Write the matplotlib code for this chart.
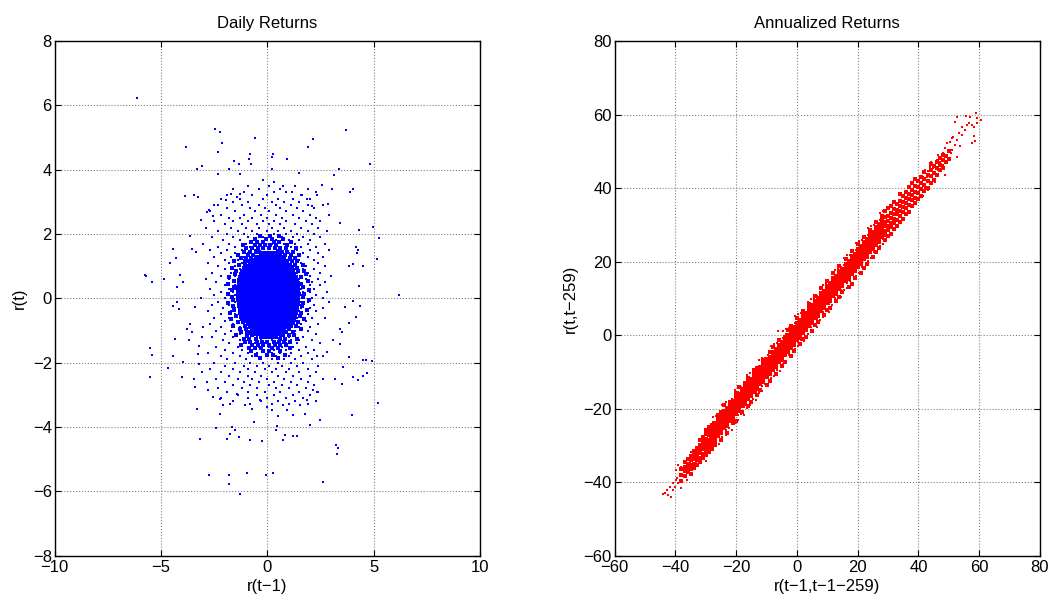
import matplotlib.pyplot as plt

plt.rcParams['font.family'] = ['Liberation Sans', 'DejaVu Sans']

# ---------------- Daily returns: r(t-1) vs r(t) ----------------
# isolated points, (r(t-1), r(t))
daily_outliers = [
    (-6.11, 6.23), (-2.46, 5.27), (-2.23, 5.16), (-2.13, 4.84), (-3.82, 4.69),
    (-2.30, 4.55), (-0.56, 4.97), (-0.82, 4.48), (-0.85, 4.32), (-0.78, 4.17),
    (0.28, 4.48), (0.22, 4.39), (0.94, 4.33), (2.13, 4.94), (1.91, 4.69),
    (3.68, 5.24), (4.83, 4.18), (-3.09, 4.11), (-3.32, 4.01), (-2.34, 3.88),
    (-1.82, 4.01), (-1.57, 4.28), (-1.32, 4.17), (-1.29, 3.85), (0.22, 4.01),
    (1.47, 3.90), (3.15, 3.84), (3.39, 4.03), (-3.86, 3.17), (-3.45, 3.21),
    (-3.26, 3.15), (3.89, 3.29), (4.01, 3.40), (3.06, 3.41), (2.55, 3.53),
    (3.42, 2.34), (4.31, 2.11), (4.95, 2.23), (5.25, 1.87), (5.14, 1.22),
    (3.86, 1.01), (4.04, 1.07), (4.48, 1.01), (4.33, 0.37), (4.15, 1.59),
    (4.28, 1.49), (4.20, 1.40), (6.21, 0.09), (-5.75, 0.73), (-5.72, 0.68),
    (-5.44, 0.50), (-4.87, 0.59), (-4.45, 1.54), (-4.58, 1.11), (-4.31, 1.25),
    (-3.64, 1.95), (-3.56, 1.54), (-3.35, 1.43), (-3.10, 2.42), (-2.85, 2.68),
    (-2.73, 2.75), (-2.54, 2.55), (-2.30, 2.90), (-1.94, 3.06), (-1.69, 3.23),
    (-1.44, 3.15), (-1.29, 3.25), (-0.89, 3.50), (-0.22, 3.67), (0.31, 3.62),
    (0.72, 3.50), (1.14, 3.30), (1.61, 3.20), (1.88, 3.10), (2.32, 3.20),
    (2.87, 2.92), (2.08, 2.86), (-4.11, 0.73), (-4.26, 0.34), (-3.98, 0.52),
    (-5.50, -1.54), (-5.41, -1.77), (-5.50, -2.45), (-4.66, -2.18), (-4.42, -1.78),
    (-4.36, -1.26), (-4.42, -0.23), (-4.26, -0.12), (-4.14, -0.33), (-4.03, -2.43),
    (-3.95, -1.98), (-3.67, -1.29), (-3.56, -1.05), (-3.45, -2.50), (-3.40, -2.76),
    (-3.32, -3.45), (-3.17, -4.36), (-2.73, -5.50), (-2.43, -4.02), (-2.23, -3.61),
    (-1.79, -5.50), (-1.79, -5.76), (-1.29, -6.09), (-1.68, -4.00), (-1.76, -4.23),
    (-1.91, -4.38), (-1.52, -4.10), (-1.32, -4.31), (-0.97, -5.43), (-0.82, -4.39),
    (-0.63, -3.85), (-0.27, -4.43), (-0.06, -5.50), (0.28, -5.42), (0.44, -3.98),
    (0.41, -4.10), (0.75, -4.41), (0.83, -4.26), (1.22, -4.29), (1.38, -4.29),
    (2.01, -3.95), (2.48, -3.79), (2.60, -5.71), (3.23, -4.57), (3.34, -4.64),
    (3.29, -4.83), (4.00, -3.63), (5.22, -3.26), (4.67, -2.33), (4.51, -2.40),
    (4.28, -2.55), (4.01, -2.45), (4.64, -1.93), (4.91, -1.95), (4.51, -1.93),
    (3.86, -1.83), (3.54, -2.14), (3.50, -2.66), (3.18, -2.50), (3.50, -1.05),
    (3.42, -0.95), (3.86, -0.78), (4.17, -0.57), (4.36, -0.23), (4.01, -0.07),
    (3.65, -0.28), (3.42, -1.42), (3.10, -1.31), (2.79, -1.67), (2.32, -1.78),
    (2.16, -2.86), (2.32, -2.91), (1.85, -3.17), (1.77, -3.61), (1.54, -3.31),
    (1.22, -3.63), (0.91, -3.47), (0.75, -3.31), (0.52, -3.67), (0.20, -3.47),
    (-0.03, -3.37), (-0.34, -3.17), (-0.74, -3.43), (-1.05, -3.33), (-1.44, -2.97),
    (-1.76, -3.28), (-2.07, -3.33), (-2.23, -3.12), (-2.54, -3.07), (-2.77, -2.86),
    (-2.85, -2.60), (-3.09, -2.29), (-3.20, -2.04), (-3.24, -1.73), (-3.20, -1.47),
    (-3.09, -1.21), (-3.01, -0.90), (-3.40, -0.28), (-3.79, -0.95), (-3.64, -0.80),
]

# medium-density ring, row by row: (r(t), [r(t-1) values])
daily_halo_rows = [
    (3.5, [-0.9, 0.1, 1.3]),
    (3.4, [-1.6, -0.4, 0.6, 1.9]),
    (3.3, [-1.1, 0.3, 0.9, 2.3]),
    (3.2, [-1.9, -0.7, 0.0, 1.6]),
    (3.1, [-2.2, -1.3, -0.2, 0.5, 1.2, 2.0]),
    (3.0, [-1.6, -0.9, 0.2, 0.8, 1.5]),
    (2.9, [-2.5, -1.2, -0.4, 0.4, 1.1, 1.9, 2.6]),
    (2.8, [-1.9, -0.8, -0.1, 0.6, 1.4, 2.2]),
    (2.7, [-2.7, -1.5, -0.6, 0.1, 0.9, 1.7]),
    (2.6, [-2.2, -1.1, -0.3, 0.4, 1.2, 2.0, 2.9]),
    (2.5, [-1.8, -1.3, -0.7, 0.0, 0.7, 1.5, 2.3]),
    (2.4, [-2.5, -1.6, -0.9, -0.2, 0.3, 0.9, 1.8, 2.5]),
    (2.3, [-2.0, -1.2, -0.5, 0.1, 0.6, 1.3, 2.1]),
    (2.2, [-2.9, -1.7, -1.0, -0.4, 0.2, 0.8, 1.6, 2.4]),
    (2.1, [-2.3, -1.4, -0.7, 0.0, 0.5, 1.1, 1.9, 2.8]),
    (2.0, [-1.9, -1.1, -0.5, 0.3, 0.9, 1.4, 2.2]),
    (1.9, [-2.6, -1.6, -0.9, -0.2, 0.1, 0.7, 1.2, 1.7, 2.5]),
    (1.8, [-2.1, -1.3, -0.6, 0.4, 1.0, 1.5, 2.0]),
    (1.7, [-3.0, -1.8, -1.0, -0.3, 0.2, 0.8, 1.3, 1.9, 2.7]),
    (1.6, [-2.3, -1.5, -0.8, -0.5, 0.6, 1.1, 1.6, 2.3]),
    (1.5, [-2.7, -1.9, -1.2, -0.6, 0.5, 0.9, 1.4, 2.0, 2.9]),
    (1.4, [-2.2, -1.5, -0.9, -0.5, 0.6, 1.0, 1.7, 2.4]),
    (1.3, [-2.5, -1.7, -1.1, -0.7, 0.8, 1.3, 1.9, 2.6]),
    (1.2, [-2.0, -1.4, -0.9, 1.0, 1.5, 2.2]),
    (1.1, [-2.8, -1.8, -1.2, 1.1, 1.6, 2.4]),
    (1.0, [-2.3, -1.5, -1.1, 1.2, 1.8, 2.7]),
    (0.9, [-2.0, -1.3, 1.3, 1.7, 2.2]),
    (0.8, [-2.6, -1.7, -1.3, 1.4, 1.9, 2.5]),
    (0.7, [-2.2, -1.5, 1.4, 2.0, 3.0]),
    (0.6, [-2.9, -1.8, -1.4, 1.5, 1.8, 2.4]),
    (0.5, [-2.4, -1.6, 1.5, 2.1, 2.7]),
    (0.4, [-2.0, -1.5, 1.6, 2.0, 2.5]),
    (0.3, [-2.7, -1.8, -1.5, 1.6, 2.2]),
    (0.2, [-2.2, -1.6, 1.7, 2.0, 2.8]),
    (0.1, [-2.5, -1.9, -1.5, 1.6, 2.3]),
    (0.0, [-3.1, -2.0, -1.6, 1.7, 2.1, 2.6]),
    (-0.1, [-2.3, -1.5, 1.6, 1.9, 2.9]),
    (-0.2, [-2.6, -1.8, 1.5, 2.2]),
    (-0.3, [-2.1, -1.5, 1.6, 2.0, 2.6]),
    (-0.4, [-2.8, -1.7, -1.3, 1.5, 2.3]),
    (-0.5, [-2.2, -1.5, 1.4, 1.9]),
    (-0.6, [-2.5, -1.8, -1.3, 1.4, 2.1, 2.7]),
    (-0.7, [-2.0, -1.4, 1.3, 1.8]),
    (-0.8, [-2.7, -1.6, -1.1, 1.2, 1.6, 2.4]),
    (-0.9, [-2.2, -1.3, -1.0, 1.1, 1.5, 2.0]),
    (-1.0, [-2.4, -1.7, -1.0, 0.9, 1.3, 1.9]),
    (-1.1, [-2.0, -1.3, -0.8, 0.8, 1.2, 2.3]),
    (-1.2, [-2.6, -1.6, -1.0, -0.5, 0.6, 1.0, 1.7]),
    (-1.3, [-2.1, -1.3, -0.8, -0.3, 0.2, 0.6, 1.1, 1.5, 2.1]),
    (-1.4, [-1.8, -1.1, -0.6, -0.1, 0.4, 0.9, 1.4, 2.5]),
    (-1.5, [-2.4, -1.4, -0.9, -0.4, 0.1, 0.7, 1.2, 1.8]),
    (-1.6, [-2.0, -1.2, -0.7, -0.2, 0.3, 0.9, 1.5, 2.2]),
    (-1.7, [-2.8, -1.6, -0.9, -0.5, 0.2, 0.6, 1.1, 1.9]),
    (-1.8, [-2.2, -1.3, -0.7, 0.0, 0.4, 1.0, 1.6, 2.6]),
    (-1.9, [-1.9, -1.0, -0.4, 0.2, 0.8, 1.3, 2.1]),
    (-2.0, [-2.5, -1.5, -0.8, -0.2, 0.5, 1.1, 1.7]),
    (-2.1, [-2.0, -1.1, -0.5, 0.1, 0.7, 1.4, 2.4]),
    (-2.2, [-2.7, -1.6, -0.9, -0.1, 0.4, 1.0, 1.9]),
    (-2.3, [-2.2, -1.3, -0.6, 0.2, 0.9, 1.5, 2.3]),
    (-2.4, [-1.8, -0.9, -0.3, 0.5, 1.2, 2.0]),
    (-2.5, [-2.4, -1.4, -0.7, 0.0, 0.8, 1.6, 2.6]),
    (-2.6, [-2.0, -1.1, -0.4, 0.3, 1.1, 1.9]),
    (-2.7, [-1.6, -0.8, 0.1, 0.7, 1.4, 2.2]),
    (-2.8, [-2.3, -1.2, -0.5, 0.4, 1.0, 1.8]),
    (-2.9, [-1.9, -0.9, -0.1, 0.6, 1.5, 2.4]),
    (-3.0, [-1.4, -0.5, 0.3, 1.2, 2.0]),
    (-3.1, [-2.2, -0.9, 0.0, 0.9, 1.7]),
    (-3.2, [-1.6, -0.3, 0.5, 1.3, 2.3]),
    (-3.3, [-0.8, 0.2, 1.0, 1.9]),
]

# dense, ragged ring right around the saturated centre
daily_inner_rows = [
    (1.95, [-0.35, 0.15, 0.55]),
    (1.85, [-0.6, -0.05, 0.2, 0.75]),
    (1.75, [-0.75, -0.5, -0.2, 0.3, 0.55, 1.1]),
    (1.65, [-1.15, -0.6, -0.35, -0.1, 0.15, 0.4, 0.95]),
    (1.55, [-1.0, -0.7, -0.45, -0.2, 0.1, 0.35, 0.6, 0.9, 1.35]),
    (1.45, [-1.1, -0.8, -0.55, -0.4, 0.5, 0.7, 0.95, 1.2]),
    (1.35, [-1.4, -0.9, -0.65, 0.6, 0.85, 1.1, 1.5]),
    (1.25, [-1.25, -1.0, -0.75, 0.8, 1.05, 1.3]),
    (1.15, [-1.55, -1.05, -0.9, 0.95, 1.15, 1.4]),
    (1.05, [-1.35, -1.05, 1.05, 1.3, 1.7]),
    (0.95, [-1.65, -1.1, 1.15, 1.4]),
    (0.85, [-1.45, -1.2, 1.2, 1.45, 1.75]),
    (0.75, [-1.5, -1.25, 1.25, 1.8]),
    (0.65, [-1.8, -1.3, 1.35, 1.6]),
    (0.55, [-1.55, -1.35, 1.4, 1.9]),
    (0.45, [-1.85, -1.35, 1.4, 1.6]),
    (0.35, [-1.55, -1.4, 1.45, 1.7]),
    (0.25, [-1.65, -1.4, 1.45, 1.95]),
    (0.15, [-1.85, -1.4, 1.5, 1.75]),
    (0.05, [-1.65, -1.4, 1.45, 1.7]),
    (-0.05, [-1.6, -1.4, 1.45, 1.95]),
    (-0.15, [-1.85, -1.35, 1.45, 1.7]),
    (-0.25, [-1.6, -1.35, 1.4, 1.65]),
    (-0.35, [-1.55, -1.3, 1.4, 1.85]),
    (-0.45, [-1.75, -1.3, 1.35, 1.6]),
    (-0.55, [-1.45, -1.25, 1.3, 1.55]),
    (-0.65, [-1.7, -1.2, 1.25, 1.75]),
    (-0.75, [-1.4, -1.15, 1.2, 1.45]),
    (-0.85, [-1.6, -1.05, 1.1, 1.35]),
    (-0.95, [-1.3, -1.0, 1.0, 1.6]),
    (-1.05, [-1.25, -0.95, -0.8, 0.9, 1.2]),
    (-1.15, [-1.45, -0.95, -0.7, 0.75, 1.0, 1.25]),
    (-1.25, [-1.1, -0.85, -0.55, 0.6, 0.85, 1.4]),
    (-1.35, [-1.05, -0.8, -0.5, -0.25, 0.0, 0.3, 0.55, 0.8, 1.05]),
    (-1.45, [-1.25, -0.7, -0.45, -0.2, 0.1, 0.35, 0.6, 0.9]),
    (-1.55, [-0.85, -0.6, -0.3, 0.2, 0.5, 1.05]),
    (-1.65, [-0.75, -0.2, 0.1, 0.6]),
    (-1.75, [-0.55, 0.0, 0.25, 0.85]),
    (-1.85, [-0.35, 0.5]),
]

# saturated centre of the cloud, row by row
daily_core_rows = [
    (1.4, [-0.3, -0.15, 0.0, 0.15, 0.3, 0.4]),
    (1.3, [-0.55, -0.4, -0.25, -0.1, 0.05, 0.2, 0.35, 0.5, 0.65]),
    (1.2, [-0.7, -0.55, -0.4, -0.25, -0.1, 0.05, 0.2, 0.35, 0.5, 0.65, 0.8]),
    (1.1, [-0.82, -0.67, -0.52, -0.37, -0.22, -0.07, 0.08, 0.23, 0.38, 0.53, 0.68, 0.83, 0.92]),
    (1.0, [-0.92, -0.77, -0.62, -0.47, -0.32, -0.17, -0.02, 0.13, 0.28, 0.43, 0.58, 0.73, 0.88, 1.02]),
    (0.9, [-1.0, -0.85, -0.7, -0.55, -0.4, -0.25, -0.1, 0.05, 0.2, 0.35, 0.5, 0.65, 0.8, 0.95, 1.1]),
    (0.8, [-1.06, -0.91, -0.76, -0.61, -0.46, -0.31, -0.16, -0.01, 0.14, 0.29, 0.44, 0.59, 0.74, 0.89, 1.04, 1.16]),
    (0.7, [-1.11, -0.96, -0.81, -0.66, -0.51, -0.36, -0.21, -0.06, 0.09, 0.24, 0.39, 0.54, 0.69, 0.84, 0.99, 1.14, 1.21]),
    (0.6, [-1.16, -1.01, -0.86, -0.71, -0.56, -0.41, -0.26, -0.11, 0.04, 0.19, 0.34, 0.49, 0.64, 0.79, 0.94, 1.09, 1.24]),
    (0.5, [-1.19, -1.04, -0.89, -0.74, -0.59, -0.44, -0.29, -0.14, 0.01, 0.16, 0.31, 0.46, 0.61, 0.76, 0.91, 1.06, 1.21, 1.29]),
    (0.4, [-1.22, -1.07, -0.92, -0.77, -0.62, -0.47, -0.32, -0.17, -0.02, 0.13, 0.28, 0.43, 0.58, 0.73, 0.88, 1.03, 1.18, 1.32]),
    (0.3, [-1.24, -1.09, -0.94, -0.79, -0.64, -0.49, -0.34, -0.19, -0.04, 0.11, 0.26, 0.41, 0.56, 0.71, 0.86, 1.01, 1.16, 1.31]),
    (0.2, [-1.25, -1.1, -0.95, -0.8, -0.65, -0.5, -0.35, -0.2, -0.05, 0.1, 0.25, 0.4, 0.55, 0.7, 0.85, 1.0, 1.15, 1.3]),
    (0.1, [-1.25, -1.12, -0.97, -0.82, -0.67, -0.52, -0.37, -0.22, -0.07, 0.08, 0.23, 0.38, 0.53, 0.68, 0.83, 0.98, 1.13, 1.28, 1.35]),
    (0.0, [-1.25, -1.1, -0.95, -0.8, -0.65, -0.5, -0.35, -0.2, -0.05, 0.1, 0.25, 0.4, 0.55, 0.7, 0.85, 1.0, 1.15, 1.3]),
    (-0.1, [-1.24, -1.09, -0.94, -0.79, -0.64, -0.49, -0.34, -0.19, -0.04, 0.11, 0.26, 0.41, 0.56, 0.71, 0.86, 1.01, 1.16, 1.31]),
    (-0.2, [-1.22, -1.07, -0.92, -0.77, -0.62, -0.47, -0.32, -0.17, -0.02, 0.13, 0.28, 0.43, 0.58, 0.73, 0.88, 1.03, 1.18, 1.32]),
    (-0.3, [-1.19, -1.04, -0.89, -0.74, -0.59, -0.44, -0.29, -0.14, 0.01, 0.16, 0.31, 0.46, 0.61, 0.76, 0.91, 1.06, 1.21, 1.29]),
    (-0.4, [-1.16, -1.01, -0.86, -0.71, -0.56, -0.41, -0.26, -0.11, 0.04, 0.19, 0.34, 0.49, 0.64, 0.79, 0.94, 1.09, 1.24]),
    (-0.5, [-1.11, -0.96, -0.81, -0.66, -0.51, -0.36, -0.21, -0.06, 0.09, 0.24, 0.39, 0.54, 0.69, 0.84, 0.99, 1.14, 1.21]),
    (-0.6, [-1.06, -0.91, -0.76, -0.61, -0.46, -0.31, -0.16, -0.01, 0.14, 0.29, 0.44, 0.59, 0.74, 0.89, 1.04, 1.16]),
    (-0.7, [-1.0, -0.85, -0.7, -0.55, -0.4, -0.25, -0.1, 0.05, 0.2, 0.35, 0.5, 0.65, 0.8, 0.95, 1.1]),
    (-0.8, [-0.92, -0.77, -0.62, -0.47, -0.32, -0.17, -0.02, 0.13, 0.28, 0.43, 0.58, 0.73, 0.88, 1.02]),
    (-0.9, [-0.82, -0.67, -0.52, -0.37, -0.22, -0.07, 0.08, 0.23, 0.38, 0.53, 0.68, 0.83, 0.92]),
    (-1.0, [-0.7, -0.55, -0.4, -0.25, -0.1, 0.05, 0.2, 0.35, 0.5, 0.65, 0.8]),
    (-1.1, [-0.55, -0.4, -0.25, -0.1, 0.05, 0.2, 0.35, 0.5, 0.65]),
    (-1.2, [-0.3, -0.15, 0.0, 0.15, 0.3, 0.4]),
]

# ---------------- Annualized returns ----------------
# sparse tails of the band, (r(t-1,t-1-259), r(t,t-259))
annual_ends = [
    (55.6, 59.6), (57.0, 59.2), (58.9, 60.5), (59.4, 59.0), (60.5, 58.5),
    (55.9, 57.2), (57.8, 57.2), (56.7, 57.8), (58.4, 56.7), (59.2, 57.6),
    (52.0, 57.9), (52.8, 59.2), (54.2, 56.7), (55.3, 55.8), (53.4, 54.9),
    (54.5, 54.4), (58.3, 54.2), (57.7, 52.2), (58.6, 52.9), (51.5, 54.0),
    (52.6, 53.1), (50.9, 53.5), (53.7, 51.3), (52.0, 51.7), (50.4, 52.6),
    (49.5, 52.2), (48.7, 50.8), (50.9, 50.4), (49.8, 50.4), (48.2, 49.4),
    (50.6, 49.4), (49.3, 48.5), (52.6, 48.5), (47.6, 48.1), (46.5, 49.0),
    (47.1, 47.2), (46.0, 47.6), (45.4, 46.3), (48.2, 46.3), (44.3, 47.2),
    (44.9, 45.4), (43.8, 45.8), (46.5, 44.9), (43.2, 44.5), (48.7, 43.6),
    (42.1, 44.9), (42.7, 43.1), (44.3, 43.1), (41.6, 43.1), (41.0, 41.7),
    (43.8, 41.3), (45.4, 41.7), (42.1, 39.9), (40.7, 39.9), (43.2, 39.5),
    (41.4, 37.7),
    (-44.0, -43.2), (-42.9, -42.0), (-43.3, -42.9), (-42.4, -43.5), (-41.3, -44.1),
    (-41.8, -41.4), (-40.7, -40.3), (-39.8, -39.4), (-40.9, -42.1), (-39.1, -40.3),
    (-38.3, -41.7), (-40.2, -41.2), (-39.4, -39.0), (-38.5, -38.1), (-38.0, -39.4),
    (-37.2, -38.7), (-39.8, -36.7), (-38.0, -35.8), (-39.1, -35.3), (-36.3, -37.6),
    (-35.8, -36.7), (-34.7, -35.6), (-35.2, -34.4), (-34.1, -34.0), (-36.3, -39.4),
    (-35.0, -31.7), (-33.6, -33.1), (-32.5, -32.6), (-31.9, -31.3), (-33.2, -34.4),
    (-29.9, -34.3), (-31.4, -30.4), (-30.8, -29.4), (-29.7, -29.0), (-29.2, -30.8),
    (-28.6, -28.1), (-27.5, -29.4), (-27.0, -27.6), (-26.4, -26.7), (-25.3, -26.3),
    (-6.1, 1.0),
]

# thinner parts of the band, column by column: (x, [y values])
annual_mid_columns = [
    (-38, [-39.6, -38.0, -36.5]),
    (-37, [-38.4, -37.0, -35.9, -34.6]),
    (-36, [-37.3, -36.1, -35.0, -33.8]),
    (-35, [-37.9, -36.5, -35.2, -34.1, -32.8]),
    (-34, [-36.2, -35.0, -33.8, -32.7, -31.5]),
    (-33, [-35.4, -34.0, -33.0, -31.9, -30.6]),
    (-32, [-34.6, -33.3, -32.2, -31.1, -30.0, -28.6]),
    (-31, [-33.5, -32.4, -31.1, -30.0, -28.8, -27.6]),
    (-30, [-32.7, -31.5, -30.4, -29.3, -28.2, -27.0, -25.9]),
    (-29, [-31.9, -30.6, -29.5, -28.4, -27.3, -26.2, -25.1]),
    (-28, [-31.0, -30.0, -28.9, -27.8, -26.7, -25.6, -24.4]),
    (29, [25.8, 27.2, 28.4, 29.6, 30.8, 32.0, 33.7]),
    (30, [26.9, 28.5, 29.7, 31.1, 32.4, 34.6]),
    (31, [27.5, 29.3, 30.6, 31.8, 33.1, 35.0]),
    (32, [28.9, 30.4, 31.7, 33.0, 34.3, 36.2]),
    (33, [29.6, 31.4, 32.9, 34.1, 35.6]),
    (34, [30.8, 32.5, 33.7, 35.2, 36.5, 38.3]),
    (35, [31.7, 33.4, 34.9, 36.3, 37.9]),
    (36, [32.9, 34.6, 35.8, 37.2, 39.0]),
    (37, [33.5, 35.3, 36.9, 38.4, 40.2]),
    (38, [35.0, 36.7, 38.1, 39.5, 41.3]),
    (39, [35.8, 37.4, 39.0, 40.6, 42.4]),
    (40, [37.1, 38.7, 40.3, 41.8]),
    (41, [37.9, 39.8, 41.4, 43.0]),
    (42, [39.2, 40.9, 42.5, 44.3]),
    (43, [40.1, 42.0, 43.6]),
    (44, [41.4, 43.2, 44.8, 46.5]),
    (45, [42.3, 44.1, 46.0]),
    (46, [43.6, 45.5, 47.2]),
    (47, [44.8, 46.4, 48.3]),
    (48, [45.5, 47.6, 49.1]),
    (49, [47.0, 48.8]),
    (50, [47.8, 50.2]),
]

# scattered points along both edges of the saturated band
annual_fringe_columns = [
    (-27.5, [-29.8, -31.1, -23.6, -22.3]), (-26.5, [-29.4, -22.1]),
    (-25.5, [-27.6, -29.7, -21.5]), (-24.5, [-27.8, -20.8, -18.9]),
    (-23.5, [-25.8, -27.1, -19.6, -18.3]), (-22.5, [-25.4, -18.1]),
    (-21.5, [-23.6, -25.7, -17.5]), (-20.5, [-23.8, -16.8, -14.9]),
    (-19.5, [-21.8, -23.1, -15.6, -14.3]), (-18.5, [-21.4, -14.1]),
    (-17.5, [-19.6, -21.7, -13.5]), (-16.5, [-19.8, -12.8, -10.9]),
    (-15.5, [-17.8, -19.1, -11.6, -10.3]), (-14.5, [-17.4, -10.1]),
    (-13.5, [-15.6, -17.7, -9.5]), (-12.5, [-15.8, -8.8, -6.9]),
    (-11.5, [-13.8, -15.1, -7.6, -6.3]), (-10.5, [-13.4, -6.1]),
    (-9.5, [-11.6, -13.7, -5.5]), (-8.5, [-11.8, -4.8, -2.9]),
    (-7.5, [-9.8, -11.1, -3.6, -2.3]), (-6.5, [-9.4, -2.1]),
    (-5.5, [-7.6, -9.7, -1.5]), (-4.5, [-7.8, -0.8, 1.1]),
    (-3.5, [-5.8, -7.1, 0.4, 1.7]), (-2.5, [-5.4, 1.9]),
    (-1.5, [-3.6, -5.7, 2.5]), (-0.5, [-3.8, 3.2, 5.1]),
    (0.5, [-1.8, -3.1, 4.4, 5.7]), (1.5, [-1.4, 5.9]),
    (2.5, [0.4, -1.7, 6.5]), (3.5, [0.2, 7.2, 9.1]),
    (4.5, [2.2, 0.9, 8.4, 9.7]), (5.5, [2.6, 9.9]),
    (6.5, [4.4, 2.3, 10.5]), (7.5, [4.2, 11.2, 13.1]),
    (8.5, [6.2, 4.9, 12.4, 13.7]), (9.5, [6.6, 13.9]),
    (10.5, [8.4, 6.3, 14.5]), (11.5, [8.2, 15.2, 17.1]),
    (12.5, [10.2, 8.9, 16.4, 17.7]), (13.5, [10.6, 17.9]),
    (14.5, [12.4, 10.3, 18.5]), (15.5, [12.2, 19.2, 21.1]),
    (16.5, [14.2, 12.9, 20.4, 21.7]), (17.5, [14.6, 21.9]),
    (18.5, [16.4, 14.3, 22.5]), (19.5, [16.2, 23.2, 25.1]),
    (20.5, [18.2, 16.9, 24.4, 25.7]), (21.5, [18.6, 25.9]),
    (22.5, [20.4, 18.3, 26.5]), (23.5, [20.2, 27.2, 29.1]),
    (24.5, [22.2, 20.9, 28.4, 29.7]), (25.5, [22.6, 29.9]),
    (26.5, [24.4, 22.3, 30.5]), (27.5, [24.2, 31.2, 33.1]),
    (28.5, [26.2, 24.9, 32.4, 33.7]),
]

# saturated middle of the band, column by column
annual_core_columns = [
    (-27, [-30.0, -28.7, -27.9, -27.1, -26.3, -25.5, -24.7, -23.9]),
    (-26, [-27.4, -26.6, -25.8, -25.0, -24.2, -23.4, -22.6, -21.7]),
    (-25, [-28.6, -26.7, -25.9, -25.1, -24.3, -23.5, -22.7, -21.9, -21.0]),
    (-24, [-25.4, -24.6, -23.8, -23.0, -22.2, -21.4, -20.6, -19.0]),
    (-23, [-26.6, -24.7, -23.9, -23.1, -22.3, -21.5, -20.7, -19.9]),
    (-22, [-23.4, -22.6, -21.8, -21.0, -20.2, -19.4, -18.6, -18.1]),
    (-21, [-24.0, -22.7, -21.9, -21.1, -20.3, -19.5, -18.7, -17.9]),
    (-20, [-23.3, -21.4, -20.6, -19.8, -19.0, -18.2, -17.4, -16.6, -15.7]),
    (-19, [-20.7, -19.9, -19.1, -18.3, -17.5, -16.7, -15.9, -14.2]),
    (-18, [-21.0, -19.4, -18.6, -17.8, -17.0, -16.2, -15.4, -14.6]),
    (-17, [-18.7, -17.9, -17.1, -16.3, -15.5, -14.7, -13.9, -13.0]),
    (-16, [-19.2, -17.4, -16.6, -15.8, -15.0, -14.2, -13.4, -12.6, -11.6]),
    (-15, [-18.3, -16.7, -15.9, -15.1, -14.3, -13.5, -12.7, -11.9]),
    (-14, [-15.4, -14.6, -13.8, -13.0, -12.2, -11.4, -10.6, -9.4]),
    (-13, [-16.4, -14.7, -13.9, -13.1, -12.3, -11.5, -10.7, -9.9, -9.0]),
    (-12, [-15.0, -13.4, -12.6, -11.8, -11.0, -10.2, -9.4, -8.6]),
    (-11, [-12.7, -11.9, -11.1, -10.3, -9.5, -8.7, -7.9, -6.8]),
    (-10, [-13.5, -11.4, -10.6, -9.8, -9.0, -8.2, -7.4, -6.6]),
    (-9, [-12.4, -10.7, -9.9, -9.1, -8.3, -7.5, -6.7, -5.9, -4.6]),
    (-8, [-9.4, -8.6, -7.8, -7.0, -6.2, -5.4, -4.6, -3.3]),
    (-7, [-10.6, -8.7, -7.9, -7.1, -6.3, -5.5, -4.7, -3.9]),
    (-6, [-7.4, -6.6, -5.8, -5.0, -4.2, -3.4, -2.6, -1.4]),
    (-5, [-8.5, -6.7, -5.9, -5.1, -4.3, -3.5, -2.7, -1.9]),
    (-4, [-7.2, -5.4, -4.6, -3.8, -3.0, -2.2, -1.4, -0.6]),
    (-3, [-4.7, -3.9, -3.1, -2.3, -1.5, -0.7, 0.1, 1.3]),
    (-2, [-5.6, -3.4, -2.6, -1.8, -1.0, -0.2, 0.6, 1.4, 2.5]),
    (-1, [-4.4, -2.7, -1.9, -1.1, -0.3, 0.5, 1.3, 2.1]),
    (0, [-1.4, -0.6, 0.2, 1.0, 1.8, 2.6, 3.4, 4.6]),
    (1, [-2.5, -0.7, 0.1, 0.9, 1.7, 2.5, 3.3, 4.1]),
    (2, [-1.0, 0.6, 1.4, 2.2, 3.0, 3.8, 4.6, 5.4, 6.6]),
    (3, [-0.4, 1.3, 2.1, 2.9, 3.7, 4.5, 5.3, 6.1]),
    (4, [2.6, 3.4, 4.2, 5.0, 5.8, 6.6, 7.4, 8.5]),
    (5, [1.2, 3.3, 4.1, 4.9, 5.7, 6.5, 7.3, 8.1]),
    (6, [2.8, 4.6, 5.4, 6.2, 7.0, 7.8, 8.6, 9.4, 10.5]),
    (7, [3.6, 5.3, 6.1, 6.9, 7.7, 8.5, 9.3, 10.1]),
    (8, [6.6, 7.4, 8.2, 9.0, 9.8, 10.6, 11.4, 12.7]),
    (9, [5.4, 7.3, 8.1, 8.9, 9.7, 10.5, 11.3, 12.1]),
    (10, [6.9, 8.6, 9.4, 10.2, 11.0, 11.8, 12.6, 13.4, 14.6]),
    (11, [7.4, 9.3, 10.1, 10.9, 11.7, 12.5, 13.3, 14.1]),
    (12, [10.6, 11.4, 12.2, 13.0, 13.8, 14.6, 15.4, 16.8]),
    (13, [9.2, 11.3, 12.1, 12.9, 13.7, 14.5, 15.3, 16.1]),
    (14, [10.3, 12.6, 13.4, 14.2, 15.0, 15.8, 16.6, 17.4, 18.9]),
    (15, [11.6, 13.3, 14.1, 14.9, 15.7, 16.5, 17.3, 18.1]),
    (16, [14.6, 15.4, 16.2, 17.0, 17.8, 18.6, 19.4, 20.7]),
    (17, [13.2, 15.3, 16.1, 16.9, 17.7, 18.5, 19.3, 20.1]),
    (18, [14.0, 16.6, 17.4, 18.2, 19.0, 19.8, 20.6, 21.4, 22.8]),
    (19, [15.5, 17.3, 18.1, 18.9, 19.7, 20.5, 21.3, 22.1]),
    (20, [18.6, 19.4, 20.2, 21.0, 21.8, 22.6, 23.4, 24.9]),
    (21, [17.0, 19.3, 20.1, 20.9, 21.7, 22.5, 23.3, 24.1]),
    (22, [18.3, 20.6, 21.4, 22.2, 23.0, 23.8, 24.6, 25.4, 26.7]),
    (23, [19.4, 21.3, 22.1, 22.9, 23.7, 24.5, 25.3, 26.1]),
    (24, [22.6, 23.4, 24.2, 25.0, 25.8, 26.6, 27.4, 28.6]),
    (25, [21.2, 23.3, 24.1, 24.9, 25.7, 26.5, 27.3, 28.1]),
    (26, [22.5, 24.6, 25.4, 26.2, 27.0, 27.8, 28.6, 29.4, 30.8]),
    (27, [23.6, 25.3, 26.1, 26.9, 27.7, 28.5, 29.3, 30.1]),
    (28, [26.6, 27.4, 28.2, 29.0, 29.8, 30.6, 31.4, 32.5]),
]


def rows_to_xy(rows):
    xs, ys = [], []
    for y, row in rows:
        xs.extend(row)
        ys.extend([y] * len(row))
    return xs, ys


def columns_to_xy(columns):
    xs, ys = [], []
    for x, col in columns:
        xs.extend([x] * len(col))
        ys.extend(col)
    return xs, ys


def style_axes(ax, title, xlabel, ylabel, lim_x, lim_y, ticks_x, ticks_y):
    ax.set_xlim(lim_x)
    ax.set_ylim(lim_y)
    ax.set_xticks(ticks_x)
    ax.set_yticks(ticks_y)
    ax.set_title(title, fontsize=12, pad=9)
    ax.set_xlabel(xlabel, fontsize=12, labelpad=3)
    ax.set_ylabel(ylabel, fontsize=12, labelpad=4)
    ax.tick_params(direction='in', top=True, right=True, length=4, width=0.8, labelsize=12)
    ax.tick_params(axis='x', pad=3)
    ax.tick_params(axis='y', pad=2)
    ax.grid(True, linestyle=':', color='#808080', linewidth=0.8)
    ax.set_axisbelow(True)
    for sp in ax.spines.values():
        sp.set_linewidth(1.0)


fig = plt.figure(figsize=(10.55, 5.99), dpi=100)
ax1 = fig.add_axes([0.0518, 0.0723, 0.4031, 0.8593])
ax2 = fig.add_axes([0.5826, 0.0723, 0.4031, 0.8593])

# left panel
hx, hy = rows_to_xy(daily_halo_rows)
ix, iy = rows_to_xy(daily_inner_rows)
cx, cy = rows_to_xy(daily_core_rows)
ox = [p[0] for p in daily_outliers]
oy = [p[1] for p in daily_outliers]
ax1.plot(cx, cy, ls='none', marker='s', ms=2.7, mew=0, color='#0000ff')
ax1.plot(ix, iy, ls='none', marker='s', ms=2.3, mew=0, color='#0000ff')
ax1.plot(hx, hy, ls='none', marker='s', ms=2.0, mew=0, color='#0000ff')
ax1.plot(ox, oy, ls='none', marker='s', ms=1.7, mew=0, color='#0000ff')
style_axes(ax1, 'Daily Returns', 'r(t\u22121)', 'r(t)',
           (-10, 10), (-8, 8), [-10, -5, 0, 5, 10], list(range(-8, 9, 2)))

# right panel
kx, ky = columns_to_xy(annual_core_columns)
fx, fy = columns_to_xy(annual_fringe_columns)
mx, my = columns_to_xy(annual_mid_columns)
ex = [p[0] for p in annual_ends]
ey = [p[1] for p in annual_ends]
ax2.plot(kx, ky, ls='none', marker='s', ms=2.7, mew=0, color='#ff0000')
ax2.plot(fx, fy, ls='none', marker='s', ms=2.0, mew=0, color='#ff0000')
ax2.plot(mx, my, ls='none', marker='s', ms=2.5, mew=0, color='#ff0000')
ax2.plot(ex, ey, ls='none', marker='s', ms=1.8, mew=0, color='#ff0000')
style_axes(ax2, 'Annualized Returns', 'r(t\u22121,t\u22121\u2212259)', 'r(t,t\u2212259)',
           (-60, 80), (-60, 80), list(range(-60, 81, 20)), list(range(-60, 81, 20)))

fig.savefig('out.png', dpi=100)
